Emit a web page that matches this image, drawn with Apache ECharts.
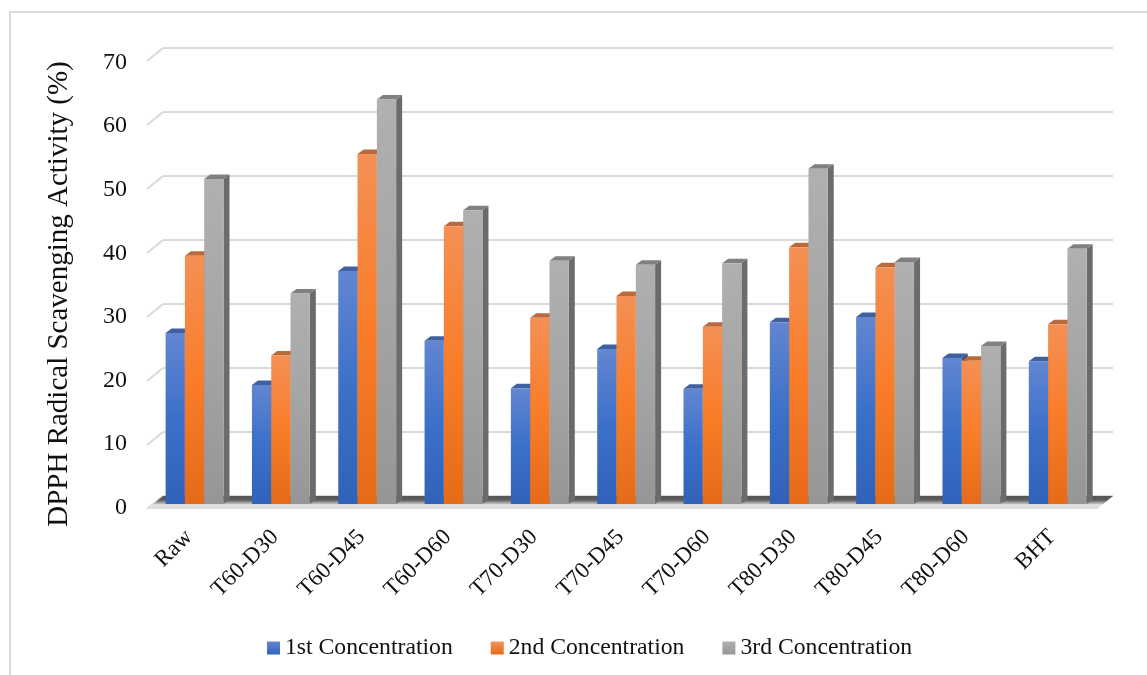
<!DOCTYPE html>
<html>
<head>
<meta charset="utf-8">
<style>
  html, body { margin: 0; padding: 0; background: #fff; }
  #chart { width: 1147px; height: 675px; }
</style>
<script src="https://cdn.jsdelivr.net/npm/echarts@6/dist/echarts.min.js"></script>
</head>
<body>
<div id="chart"></div>
<script>
// values
const categories = ['Raw', 'T60-D30', 'T60-D45', 'T60-D60', 'T70-D30', 'T70-D45', 'T70-D60', 'T80-D30', 'T80-D45', 'T80-D60', 'BHT'];
const conc1 = [26.7, 18.6, 36.4, 25.5, 18.1, 24.2, 18.0, 28.4, 29.2, 22.8, 22.3];
const conc2 = [38.8, 23.2, 54.7, 43.4, 29.1, 32.5, 27.7, 40.1, 37.0, 22.4, 28.1];
const conc3 = [50.8, 32.9, 63.2, 45.9, 38.0, 37.4, 37.6, 52.4, 37.8, 24.7, 39.9];
const seriesNames = ['1st Concentration', '2nd Concentration', '3rd Concentration'];
const yTicks = [0, 10, 20, 30, 40, 50, 60, 70];

const FONT = '"Liberation Serif", "Times New Roman", serif';
const GRID_COLOR = '#d9d9d9';

const vGrad = stops => new echarts.graphic.LinearGradient(0, 0, 0, 1, stops.map((c, i) => ({ offset: i / (stops.length - 1), color: c })));

const palette = [
  { front: ['#6286d1', '#3c70c9', '#3162ba'], top: '#40609f', side: '#2f4c85' },
  { front: ['#f49055', '#f97d29', '#e56b18'], top: '#b96a3c', side: '#a8591f' },
  { front: ['#b0b0b0', '#a5a5a5', '#969696'], top: '#808080', side: '#6b6b6b' },
];

// 3d look of the bars: front face + top + right side
const barRender = idx => (params, api) => {
  const i = api.value(0);
  const base = api.coord([i, 0]);
  const top = api.coord([i, api.value(1)]);
  const w = api.size([1, 0])[0] * 0.2236;
  const x = base[0] + (idx - 1.5) * w;
  const dx = 6;
  const dy = 4.5;
  const c = palette[idx];
  return {
    type: 'group',
    children: [
      {
        type: 'polygon',
        shape: { points: [[x + w, top[1]], [x + w + dx, top[1] - dy], [x + w + dx, base[1] - dy], [x + w, base[1]]] },
        style: { fill: c.side },
      },
      {
        type: 'polygon',
        shape: { points: [[x, top[1]], [x + dx, top[1] - dy], [x + w + dx, top[1] - dy], [x + w, top[1]]] },
        style: { fill: c.top },
      },
      {
        type: 'rect',
        shape: { x, y: top[1], width: w, height: base[1] - top[1] },
        style: { fill: vGrad(c.front) },
      },
    ],
  };
};

const barSeries = (name, values, idx) => ({
  name,
  type: 'custom',
  xAxisIndex: 0,
  yAxisIndex: 0,
  z: 5 + idx,
  itemStyle: { color: vGrad([palette[idx].front[0], palette[idx].front[2]]) },
  encode: { x: 0, y: 1 },
  data: values.map((v, i) => [i, v]),
  renderItem: barRender(idx),
});

const option = {
  animation: false,
  backgroundColor: '#fff',
  textStyle: { fontFamily: FONT },
  graphic: [
    {
      type: 'rect',
      silent: true,
      shape: { x: 10, y: 12, width: 1300, height: 800 },
      style: { fill: 'none', stroke: GRID_COLOR, lineWidth: 2 },
    },
  ],
  legend: {
    left: 262,
    top: 631,
    data: seriesNames,
    icon: 'rect',
    itemWidth: 13,
    itemHeight: 13,
    itemGap: 38,
    textStyle: { fontFamily: FONT, fontSize: 23.7, color: '#111' },
  },
  grid: [
    { left: 151.4, top: 56, width: 949.5, height: 448 }, // bar plane
    { left: 163, top: 48, width: 950, height: 448 }, // back wall
    { left: 147, top: 62.5, width: 950, height: 445 }, // value labels
  ],
  xAxis: [
    {
      type: 'category',
      gridIndex: 0,
      data: categories,
      axisLine: { show: false },
      axisTick: { show: false },
      axisLabel: { interval: 0, rotate: 45, margin: 24, padding: [0, 8, 0, 0], fontFamily: FONT, fontSize: 23, color: '#111' },
    },
    { type: 'value', gridIndex: 1, min: 0, max: 1, show: false },
    { type: 'value', gridIndex: 2, min: 0, max: 1, show: false },
  ],
  yAxis: [
    { type: 'value', gridIndex: 0, min: 0, max: 70, interval: 10, show: false },
    {
      type: 'value',
      gridIndex: 1,
      min: 0,
      max: 70,
      interval: 10,
      axisLine: { show: false },
      axisTick: { show: false },
      axisLabel: { show: false },
      splitLine: { show: true, lineStyle: { color: GRID_COLOR, width: 2 } },
    },
    {
      type: 'value',
      gridIndex: 2,
      min: 0,
      max: 70,
      interval: 10,
      name: 'DPPH Radical Scavenging Activity (%)',
      nameLocation: 'middle',
      nameGap: 73,
      nameRotate: 90,
      nameTextStyle: { fontFamily: FONT, fontSize: 29, color: '#111', padding: [0, 18, 0, 0] },
      axisLine: { show: false },
      axisTick: { show: false },
      splitLine: { show: false },
      axisLabel: { margin: 20, fontFamily: FONT, fontSize: 24, color: '#111' },
    },
  ],
  series: [
    {
      // slanted side-wall ticks
      type: 'custom',
      xAxisIndex: 1,
      yAxisIndex: 1,
      z: 1,
      silent: true,
      data: yTicks.map(v => [0, v]),
      renderItem: (params, api) => {
        const p = api.coord([0, api.value(1)]);
        return {
          type: 'line',
          shape: { x1: p[0], y1: p[1], x2: p[0] - 16, y2: p[1] + 13 },
          style: { stroke: GRID_COLOR, lineWidth: 2 },
        };
      },
    },
    {
      // floor with its front edge and shadow
      type: 'custom',
      xAxisIndex: 1,
      yAxisIndex: 1,
      z: 2,
      silent: true,
      data: [[0, 0]],
      renderItem: (params, api) => {
        const a = api.coord([0, 0]);
        const b = api.coord([1, 0]);
        return {
          type: 'polygon',
          shape: { points: [[a[0], a[1]], [b[0], b[1]], [b[0] - 16, b[1] + 13], [a[0] - 16, a[1] + 13]] },
          style: {
            fill: new echarts.graphic.LinearGradient(0, 0, 0, 1, [
              { offset: 0, color: '#565656' },
              { offset: 0.3, color: '#5c5c5c' },
              { offset: 0.62, color: '#c4c4c4' },
              { offset: 0.66, color: '#e2e2e2' },
              { offset: 1, color: '#dcdcdc' },
            ]),
          },
        };
      },
    },
    barSeries(seriesNames[0], conc1, 0),
    barSeries(seriesNames[1], conc2, 1),
    barSeries(seriesNames[2], conc3, 2),
  ],
};

const myChart = echarts.init(document.querySelector('#chart'));
myChart.setOption(option);
</script>
</body>
</html>
